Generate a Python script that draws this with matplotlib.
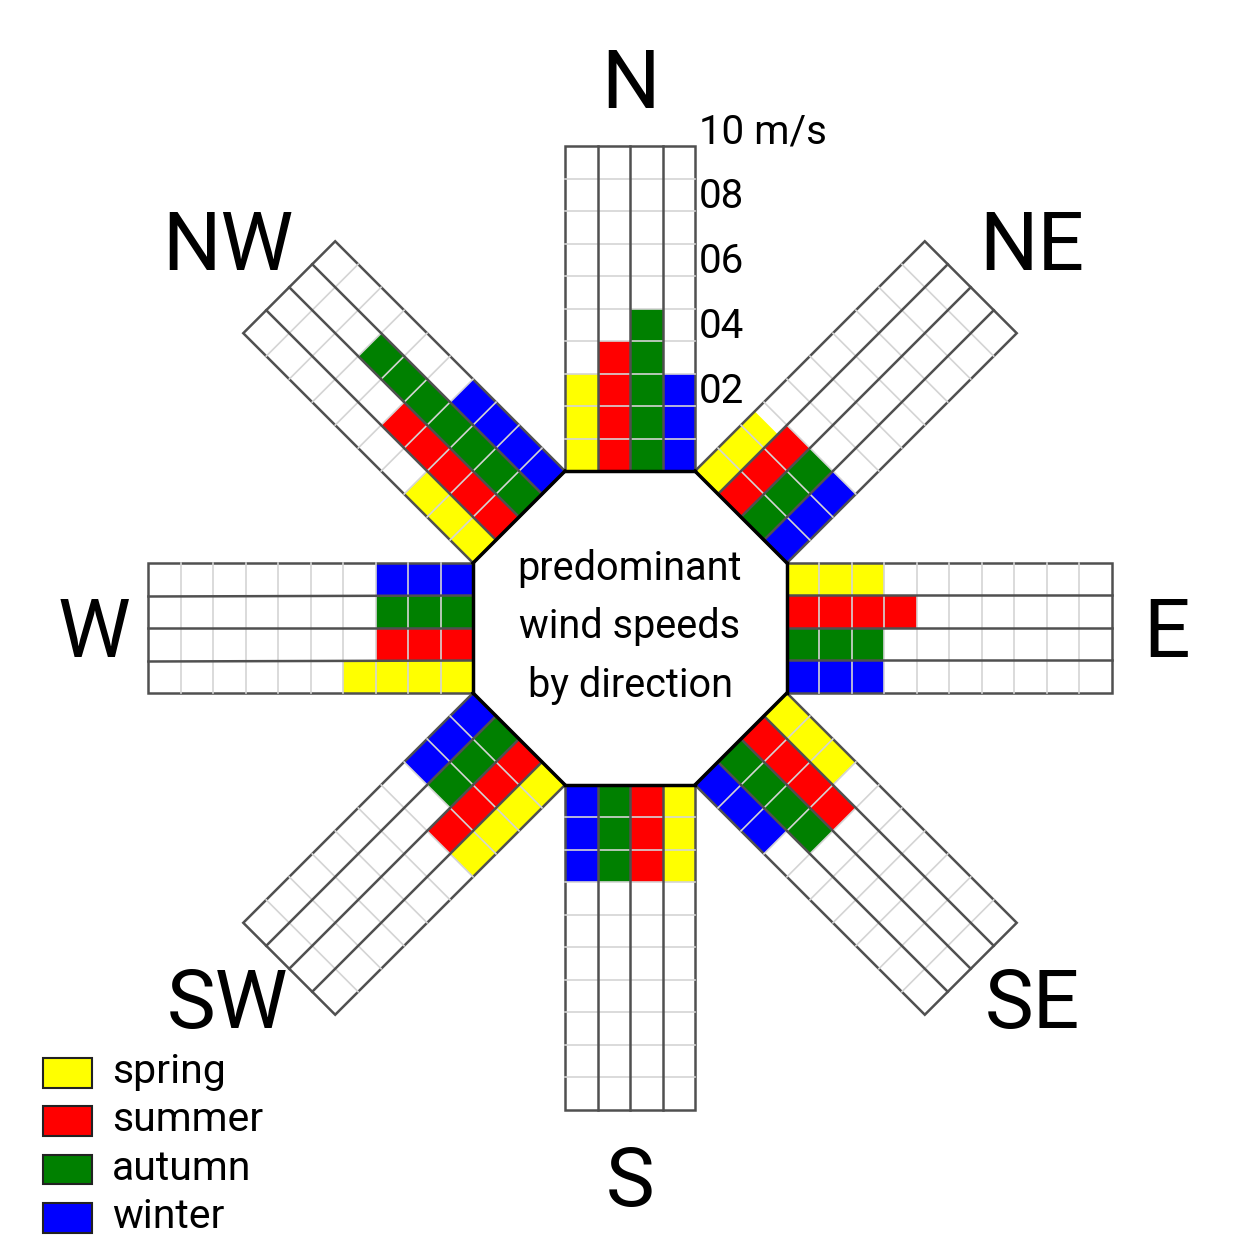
import numpy as np
import matplotlib.pyplot as plt
from matplotlib.transforms import Affine2D
from matplotlib.patches import Rectangle

plt.rcParams['font.family'] = ['Roboto', 'DejaVu Sans']

# wind speed (m/s) per direction, one list per season
directions = ['N', 'NE', 'E', 'SE', 'S', 'SW', 'W', 'NW']
bearings = [0, 45, 90, 135, 180, 225, 270, 315]
seasons = ['spring', 'summer', 'autumn', 'winter']
colors = ['#ffff00', '#ff0000', '#008000', '#0000ff']

spring = [3, 2.6, 3, 3, 3, 4, 4, 3]
summer = [4, 3, 4, 4, 3, 4, 3, 5]
autumn = [5, 3, 3, 4, 3, 3, 3, 7]
winter = [3, 3, 3, 3, 3, 3, 3, 4]

tick_vals = [2, 4, 6, 8, 10]
tick_labels = ['02', '04', '06', '08', '10 m/s']
center_lines = ['predominant', 'wind speeds', 'by direction']

# layout (1 m/s = 32.5 px)
px = 32.5
r0 = 2 / np.tan(np.pi / 8)   # inner octagon, arms are 4 columns wide
arm_len = 10

fig = plt.figure(figsize=(12.55, 12.51), dpi=100)
ax = fig.add_axes([0, 0, 1, 1])
ax.axis('off')

cols = np.array([-1.5, -0.5, 0.5, 1.5])
for i, b in enumerate(bearings):
    tr = Affine2D().rotate_deg(-b) + ax.transData
    vals = [spring[i], summer[i], autumn[i], winter[i]]
    ax.bar(cols, vals, width=1, bottom=r0, color=colors, linewidth=0, transform=tr)
    # unit grid (light, shows white-ish over the bars)
    for k in range(1, arm_len):
        ax.plot([-2, 2], [r0 + k, r0 + k], color='#d4d4d4', lw=1.2, transform=tr)
    for u in [-1, 0, 1]:
        ax.plot([u, u], [r0, r0 + arm_len], color='#505050', lw=1.8, transform=tr)
    ax.add_patch(Rectangle((-2, r0), 4, arm_len, fill=False, ec='#505050', lw=1.8, transform=tr))
    ax.plot([-2, 2], [r0, r0], color='black', lw=2.5, transform=tr)

    # direction label
    ang = np.deg2rad(b)
    if b % 90 == 0:
        lx, ly = 16.5 * np.sin(ang), 16.9 * np.cos(ang)
    else:
        lx, ly = 17.5 * np.sin(ang), 16.5 * np.cos(ang) + 0.25
    ax.text(lx, ly - 0.9, directions[i], fontsize=59, ha='center', va='baseline')

# speed scale next to the N arm
for v, lab in zip(tick_vals, tick_labels):
    ax.text(2.12, r0 + v + 0.08, lab, fontsize=29, ha='left', va='baseline')

# title in the middle
for j, line in enumerate(center_lines):
    ax.text(0, 1.48 - 1.8 * j, line, fontsize=28.5, ha='center', va='baseline')

# legend
for j, (s, c) in enumerate(zip(seasons, colors)):
    y = -14.15 - 1.486 * j
    ax.add_patch(Rectangle((-18.06, y), 1.5, 0.92, fc=c, ec='#222222', lw=1.5))
    ax.text(-15.94, y + 0.15, s, fontsize=29.5, ha='left', va='baseline')

ax.set_xlim(-630 / px, 625 / px)
ax.set_ylim(-623 / px, 628 / px)

fig.savefig('out.png', dpi=100)
